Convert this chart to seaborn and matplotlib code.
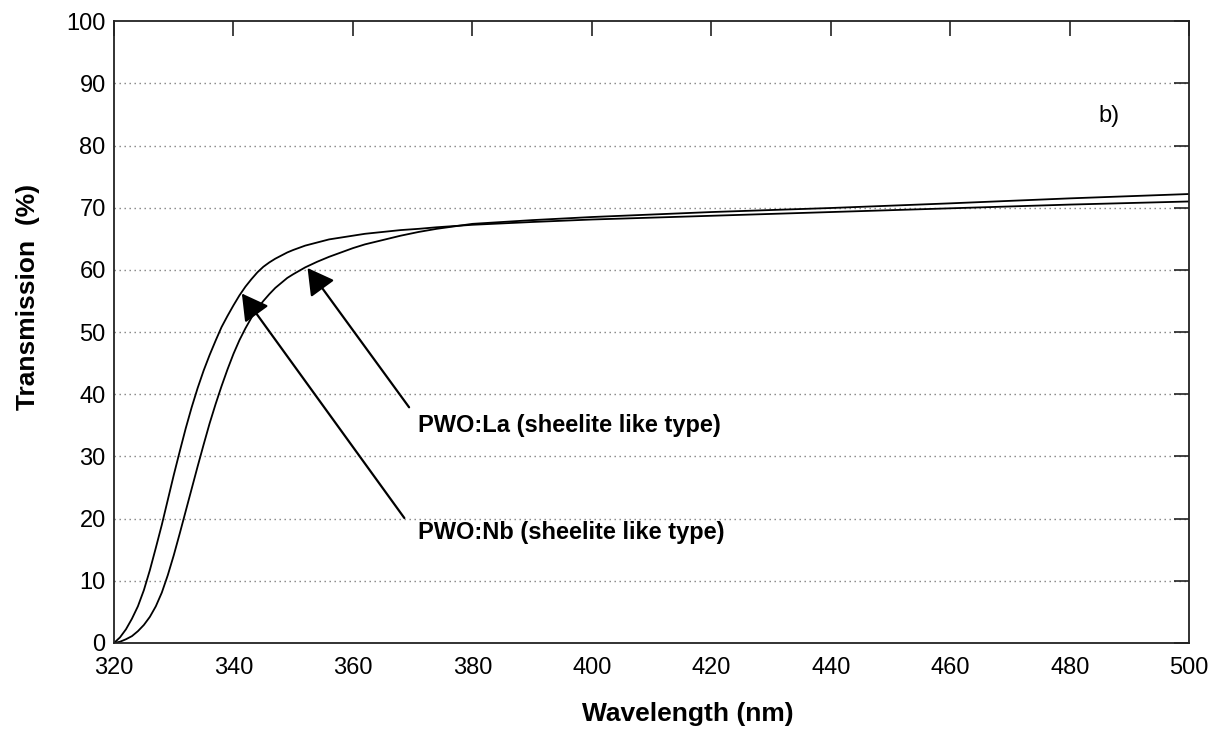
import matplotlib
matplotlib.use("Agg")
import matplotlib.pyplot as plt
import seaborn as sns
import pandas as pd

# ---- data ----
wavelength = [320, 321, 322, 323, 324, 325, 326, 327, 328, 329, 330, 331, 332, 333, 334,
              335, 336, 337, 338, 339, 340, 341, 342, 343, 344, 345, 346, 347, 348, 349,
              350, 352, 354, 356, 358, 360, 362, 365, 368, 371, 374, 377, 380, 390, 400,
              420, 440, 460, 480, 500]

nb_transmission = [0, 0.9, 2.2, 3.9, 5.9, 8.5, 11.7, 15.3, 19.0, 23.0, 27.0, 30.8, 34.5,
                   37.9, 41.0, 43.8, 46.3, 48.6, 50.8, 52.6, 54.3, 55.9, 57.3, 58.5, 59.6,
                   60.5, 61.2, 61.8, 62.3, 62.8, 63.2, 63.9, 64.4, 64.9, 65.2, 65.5, 65.8,
                   66.1, 66.4, 66.6, 66.85, 67.05, 67.25, 67.7, 68.1, 68.7, 69.3, 69.9,
                   70.5, 71.0]

la_transmission = [0, 0.2, 0.6, 1.1, 1.9, 2.9, 4.2, 5.9, 8.1, 10.9, 14.1, 17.6, 21.2,
                   24.8, 28.4, 31.9, 35.3, 38.4, 41.3, 44.0, 46.5, 48.7, 50.6, 52.3, 53.8,
                   55.0, 56.1, 57.1, 57.9, 58.7, 59.3, 60.4, 61.3, 62.1, 62.8, 63.5, 64.1,
                   64.8, 65.5, 66.1, 66.6, 67.0, 67.4, 68.0, 68.5, 69.3, 69.95, 70.7,
                   71.5, 72.2]

x_ticks = [320, 340, 360, 380, 400, 420, 440, 460, 480, 500]
y_ticks = [0, 10, 20, 30, 40, 50, 60, 70, 80, 90, 100]
grid_levels = [10, 20, 30, 40, 50, 60, 70, 80, 90]

la_label = "PWO:La (sheelite like type)"
nb_label = "PWO:Nb (sheelite like type)"
la_arrow_tip = (352.4, 60.3)
la_arrow_tail = (369.4, 37.9)
nb_arrow_tip = (341.4, 56.2)
nb_arrow_tail = (368.6, 20.1)

# ---- style ----
sns.set_style("white")
plt.rcParams["font.family"] = ["Liberation Sans", "DejaVu Sans"]
plt.rcParams["text.color"] = "black"
plt.rcParams["axes.labelcolor"] = "black"

fig = plt.figure(figsize=(12.26, 7.29), dpi=100)
ax = fig.add_axes([0.093, 0.118, 0.877, 0.853])

df = pd.DataFrame({"Wavelength": wavelength,
                   "PWO:Nb": nb_transmission,
                   "PWO:La": la_transmission})
sns.lineplot(data=df, x="Wavelength", y="PWO:Nb", ax=ax, color="black", lw=1.3)
sns.lineplot(data=df, x="Wavelength", y="PWO:La", ax=ax, color="black", lw=1.3)

for g in grid_levels:
    ax.axhline(g, color="#808080", lw=1.0, linestyle=(0, (1, 2.6)), zorder=0)

ax.set_xlim(320, 500)
ax.set_ylim(0, 100)
ax.set_xticks(x_ticks)
ax.set_yticks(y_ticks)
ax.tick_params(axis="both", direction="in", length=10.5, width=1.2, colors="#222222",
               labelcolor="black", labelsize=17, top=True, right=True)
ax.tick_params(axis="x", pad=10)
ax.tick_params(axis="y", pad=6)
for s in ax.spines.values():
    s.set_visible(True)
    s.set_color("#222222")
    s.set_linewidth(1.3)

ax.set_xlabel("Wavelength (nm)", fontsize=19, fontweight="bold", va="baseline")
ax.xaxis.set_label_coords(0.534, -0.126)
ax.set_ylabel("Transmission  (%)", fontsize=19, fontweight="bold", va="center")
ax.yaxis.set_label_coords(-0.080, 0.556)

arrow_kw = dict(arrowstyle="-|>,head_length=0.8,head_width=0.45", color="black",
                lw=1.6, shrinkA=0, shrinkB=0, mutation_scale=20)
ax.annotate("", xy=la_arrow_tip, xytext=la_arrow_tail, arrowprops=arrow_kw)
ax.annotate("", xy=nb_arrow_tip, xytext=nb_arrow_tail, arrowprops=arrow_kw)
ax.text(370.9, 35.0, la_label, fontsize=17, fontweight="bold", va="center", ha="left")
ax.text(370.9, 17.7, nb_label, fontsize=17, fontweight="bold", va="center", ha="left")
ax.text(486.6, 84.8, "b)", fontsize=17, va="center", ha="center")

fig.savefig("out.png", dpi=100)
